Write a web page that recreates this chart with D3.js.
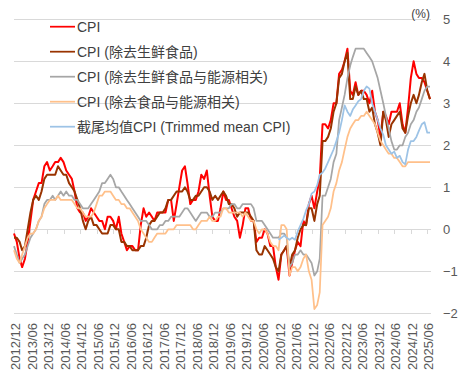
<!DOCTYPE html>
<html>
<head>
<meta charset="utf-8">
<script src="https://d3js.org/d3.v7.min.js"></script>
<style>
  body { margin: 0; background: #fff; }
  text { font-family: "Liberation Sans", Arial, "Noto Sans CJK SC", sans-serif; }
</style>
</head>
<body>
<script>
// monthly y/y %, first point 2012/12, last 2025/07
const startMonth = new Date(2012, 11, 1);

const cpi = [-0.1,
  -0.3,-0.7,-0.9,-0.7,-0.3,0.2,0.7,0.9,1.1,1.1,1.5,1.6,
  1.4,1.5,1.6,1.6,1.7,1.6,1.4,1.3,1.2,0.9,0.5,0.4,
  0.4,0.2,0.3,0.5,0.4,0.3,0.2,0.2,0.0,0.3,0.3,0.2,
  0.0,0.3,-0.1,-0.3,-0.5,-0.4,-0.4,-0.5,-0.5,0.1,0.5,0.3,
  0.4,0.3,0.2,0.4,0.4,0.4,0.4,0.7,0.7,0.2,0.6,1.0,
  1.4,1.5,1.1,0.6,0.7,0.7,0.9,1.3,1.2,1.4,0.8,0.3,
  0.2,0.2,0.5,0.9,0.7,0.7,0.5,0.3,0.2,-0.2,0.1,0.5,
  0.5,0.2,0.2,-0.3,-0.2,-0.2,0.0,-0.1,-0.4,-0.4,-0.9,-1.2,
  -0.6,-0.5,-0.4,-1.1,-0.8,-0.5,-0.3,-0.4,0.2,0.1,0.6,0.8,
  0.5,0.9,1.2,2.5,2.5,2.4,2.6,3.0,3.0,3.7,3.8,4.0,
  4.3,3.3,3.2,3.5,3.2,3.3,3.3,3.2,3.0,3.3,2.8,2.6,
  2.2,2.8,2.7,2.5,2.8,2.8,2.8,3.0,2.5,2.3,2.9,3.6,
  4.0,3.7,3.6,3.6,3.5,3.3,3.1];

const cpiExFresh = [-0.2,
  -0.2,-0.3,-0.5,-0.4,0.0,0.4,0.7,0.8,0.7,0.9,1.2,1.3,
  1.3,1.3,1.3,1.5,1.4,1.3,1.3,1.1,1.0,0.9,0.7,0.5,
  0.2,0.0,0.2,0.3,0.1,0.1,0.0,-0.1,-0.1,-0.1,0.1,0.1,
  0.0,0.0,-0.3,-0.3,-0.4,-0.4,-0.5,-0.5,-0.5,-0.4,-0.4,-0.2,
  0.1,0.2,0.2,0.3,0.4,0.4,0.5,0.7,0.7,0.8,0.9,0.9,
  0.9,1.0,0.9,0.7,0.7,0.8,0.8,0.9,1.0,1.0,0.9,0.7,
  0.8,0.7,0.8,0.9,0.8,0.6,0.6,0.5,0.3,0.4,0.4,0.4,
  0.4,0.3,0.2,-0.5,-0.6,-0.6,-0.4,-0.5,-0.6,-0.7,-0.9,-1.0,
  -0.6,-0.5,-0.4,-0.9,-0.6,-0.5,-0.2,0.0,0.1,0.1,0.5,0.5,
  0.2,0.6,0.8,2.1,2.1,2.2,2.4,2.8,3.0,3.6,3.7,4.0,
  4.2,3.1,3.1,3.4,3.2,3.3,3.1,3.1,2.8,2.9,2.5,2.3,
  2.0,2.8,2.6,2.2,2.5,2.6,2.7,2.8,2.4,2.3,2.7,3.0,
  3.2,3.0,3.2,3.5,3.7,3.3,3.1];

const cpiExFreshEnergy = [-0.4,
  -0.6,-0.8,-0.7,-0.6,-0.4,-0.2,-0.1,0.0,0.2,0.3,0.6,0.7,
  0.7,0.8,0.7,0.8,0.9,0.8,0.9,0.8,0.8,0.7,0.7,0.6,
  0.5,0.5,0.5,0.6,0.7,0.8,0.9,1.1,1.1,1.2,1.3,1.2,
  1.0,1.0,0.9,0.8,0.7,0.6,0.5,0.4,0.3,0.2,0.2,0.2,
  0.1,0.0,0.0,0.0,0.1,0.1,0.2,0.2,0.3,0.3,0.3,0.3,
  0.4,0.5,0.5,0.4,0.3,0.2,0.3,0.4,0.4,0.4,0.3,0.3,
  0.4,0.4,0.4,0.5,0.5,0.5,0.6,0.6,0.5,0.5,0.6,0.6,
  0.6,0.6,0.5,0.2,0.2,0.2,0.1,0.0,-0.1,-0.2,-0.2,-0.2,
  -0.1,-0.1,-0.2,-0.9,-0.8,-0.6,-0.6,-0.5,-0.6,-0.6,-0.7,-0.8,
  -1.1,-1.0,-0.7,0.8,0.8,1.0,1.2,1.6,1.8,2.6,2.9,3.2,
  3.6,3.9,4.1,4.3,4.3,4.3,4.3,4.2,4.1,4.0,3.8,3.6,
  3.3,3.0,2.7,2.4,2.1,1.9,1.9,2.0,2.0,2.2,2.3,2.5,
  2.6,2.8,2.9,3.1,3.3,3.4,3.4];

const cpiExFoodEnergy = [-0.5,
  -0.7,-0.8,-0.6,-0.4,-0.2,-0.1,-0.1,0.0,0.2,0.3,0.5,0.6,
  0.7,0.7,0.7,0.8,0.7,0.7,0.7,0.7,0.7,0.6,0.5,0.5,
  0.4,0.3,0.3,0.3,0.4,0.6,0.8,0.8,0.9,0.9,0.9,0.8,
  0.7,0.7,0.6,0.6,0.5,0.5,0.4,0.3,0.2,0.0,-0.1,-0.2,
  -0.3,-0.3,-0.2,-0.1,-0.1,-0.1,-0.1,0.0,0.0,0.0,0.1,0.1,
  0.1,0.1,0.1,0.1,0.0,0.0,0.1,0.2,0.2,0.2,0.3,0.2,
  0.2,0.3,0.3,0.5,0.5,0.4,0.4,0.4,0.4,0.4,0.3,0.4,
  0.3,0.2,0.2,0.0,-0.1,0.0,0.0,-0.1,-0.3,-0.4,-0.4,-0.5,
  0.1,0.1,0.0,-1.1,-0.9,-0.9,-1.0,-0.9,-0.7,-0.6,-1.0,-1.2,
  -1.9,-1.8,-1.5,0.1,0.2,0.3,0.5,0.9,1.1,1.4,1.6,1.9,
  2.2,2.4,2.5,2.6,2.6,2.7,2.7,2.8,2.7,2.6,2.5,2.3,
  2.1,2.0,1.9,1.8,1.8,1.7,1.7,1.6,1.5,1.5,1.6,1.6,
  1.6,1.6,1.6,1.6,1.6,1.6,1.6];

// trimmed mean only shown from 2020/12
const trimmedStart = new Date(2020, 11, 1);
const trimmedMean = [-0.25,
  -0.2,-0.15,-0.2,-0.25,-0.2,-0.25,-0.05,0.1,0.25,0.45,0.6,0.85,
  0.9,1.05,1.3,1.35,1.45,1.6,1.75,1.9,2.1,2.3,2.6,2.95,
  2.8,2.7,2.85,2.95,3.05,3.1,3.3,3.4,3.35,3.0,2.8,2.6,
  2.4,2.25,2.0,1.9,1.8,1.85,1.7,1.75,1.6,1.55,1.9,2.1,
  2.1,2.2,2.35,2.5,2.55,2.3,2.3];

const seriesNames = ["CPI", "CPI (除去生鲜食品)", "CPI (除去生鲜食品与能源相关)",
  "CPI (除去食品与能源相关)", "截尾均值CPI (Trimmed mean CPI)"];
const seriesColors = ["#ff0000", "#993300", "#a6a6a6", "#ffc08a", "#9dc3e6"];

const xLabels = ["2012/12","2013/06","2013/12","2014/06","2014/12","2015/06","2015/12",
  "2016/06","2016/12","2017/06","2017/12","2018/06","2018/12","2019/06","2019/12",
  "2020/06","2020/12","2021/06","2021/12","2022/06","2022/12","2023/06","2023/12",
  "2024/06","2024/12","2025/06"];
const yTicks = [-2, -1, 0, 1, 2, 3, 4, 5];

const width = 460, height = 380;

const svg = d3.select("body").append("svg")
  .attr("width", width)
  .attr("height", height);

const x = d3.scaleTime()
  .domain([startMonth, new Date(2025, 6, 1)])
  .range([14, 430]);
const y = d3.scaleLinear().domain([-2, 5]).range([313.3, 19.3]);

const toPoints = (vals, start) =>
  vals.map((v, i) => ({ date: d3.timeMonth.offset(start, i), v }));

const series = [
  toPoints(cpi, startMonth),
  toPoints(cpiExFresh, startMonth),
  toPoints(cpiExFreshEnergy, startMonth),
  toPoints(cpiExFoodEnergy, startMonth),
  toPoints(trimmedMean, trimmedStart)
];
const widths = [2, 2, 1.75, 1.75, 1.75];

// gridlines
svg.append("g")
  .selectAll("line")
  .data(yTicks)
  .join("line")
    .attr("x1", 14).attr("x2", 431)
    .attr("y1", d => Math.round(y(d)) + 0.5)
    .attr("y2", d => Math.round(y(d)) + 0.5)
    .attr("stroke", "#d9d9d9")
    .attr("stroke-width", 1);

// small ticks on the zero line
const tickDates = xLabels.map((d, i) => d3.timeMonth.offset(startMonth, i * 6));
svg.append("g")
  .selectAll("line")
  .data(tickDates)
  .join("line")
    .attr("x1", d => Math.round(x(d)) + 0.5)
    .attr("x2", d => Math.round(x(d)) + 0.5)
    .attr("y1", Math.round(y(0)))
    .attr("y2", Math.round(y(0)) + 5)
    .attr("stroke", "#d9d9d9");

// right axis
svg.append("g")
  .attr("transform", "translate(441,0)")
  .call(d3.axisRight(y).tickValues(yTicks).tickSize(0).tickFormat(d3.format("d")))
  .call(g => g.select(".domain").remove())
  .call(g => g.selectAll("text")
    .attr("x", 2)
    .attr("font-size", 13)
    .attr("font-family", "\"Liberation Sans\", Arial, sans-serif")
    .attr("fill", "#595959"));

svg.append("text")
  .attr("x", 430).attr("y", 18)
  .attr("text-anchor", "end")
  .attr("font-size", 12)
  .attr("fill", "#404040")
  .text("(%)");

// x labels, rotated, placed at bottom
svg.append("g")
  .selectAll("text")
  .data(xLabels)
  .join("text")
    .attr("transform", (d, i) => `translate(${x(tickDates[i]) + 1.5},323) rotate(-90)`)
    .attr("text-anchor", "end")
    .attr("dy", "0.35em")
    .attr("font-size", 13)
    .attr("fill", "#595959")
    .text(d => d);

// lines
const line = d3.line()
  .x(d => x(d.date))
  .y(d => y(d.v));

svg.append("g")
  .attr("fill", "none")
  .attr("stroke-linejoin", "round")
  .selectAll("path")
  .data(series)
  .join("path")
    .attr("d", line)
    .attr("stroke", (d, i) => seriesColors[i])
    .attr("stroke-width", (d, i) => widths[i]);

// legend
const legend = svg.append("g")
  .selectAll("g")
  .data(seriesNames)
  .join("g")
    .attr("transform", (d, i) => `translate(50,${26.7 + i * 25})`);

legend.append("line")
  .attr("x1", 0).attr("x2", 25)
  .attr("stroke", (d, i) => seriesColors[i])
  .attr("stroke-width", 1.75);

legend.append("text")
  .attr("x", 27)
  .attr("dy", "0.36em")
  .attr("font-size", 14)
  .attr("fill", "#404040")
  .text(d => d);
</script>
</body>
</html>
